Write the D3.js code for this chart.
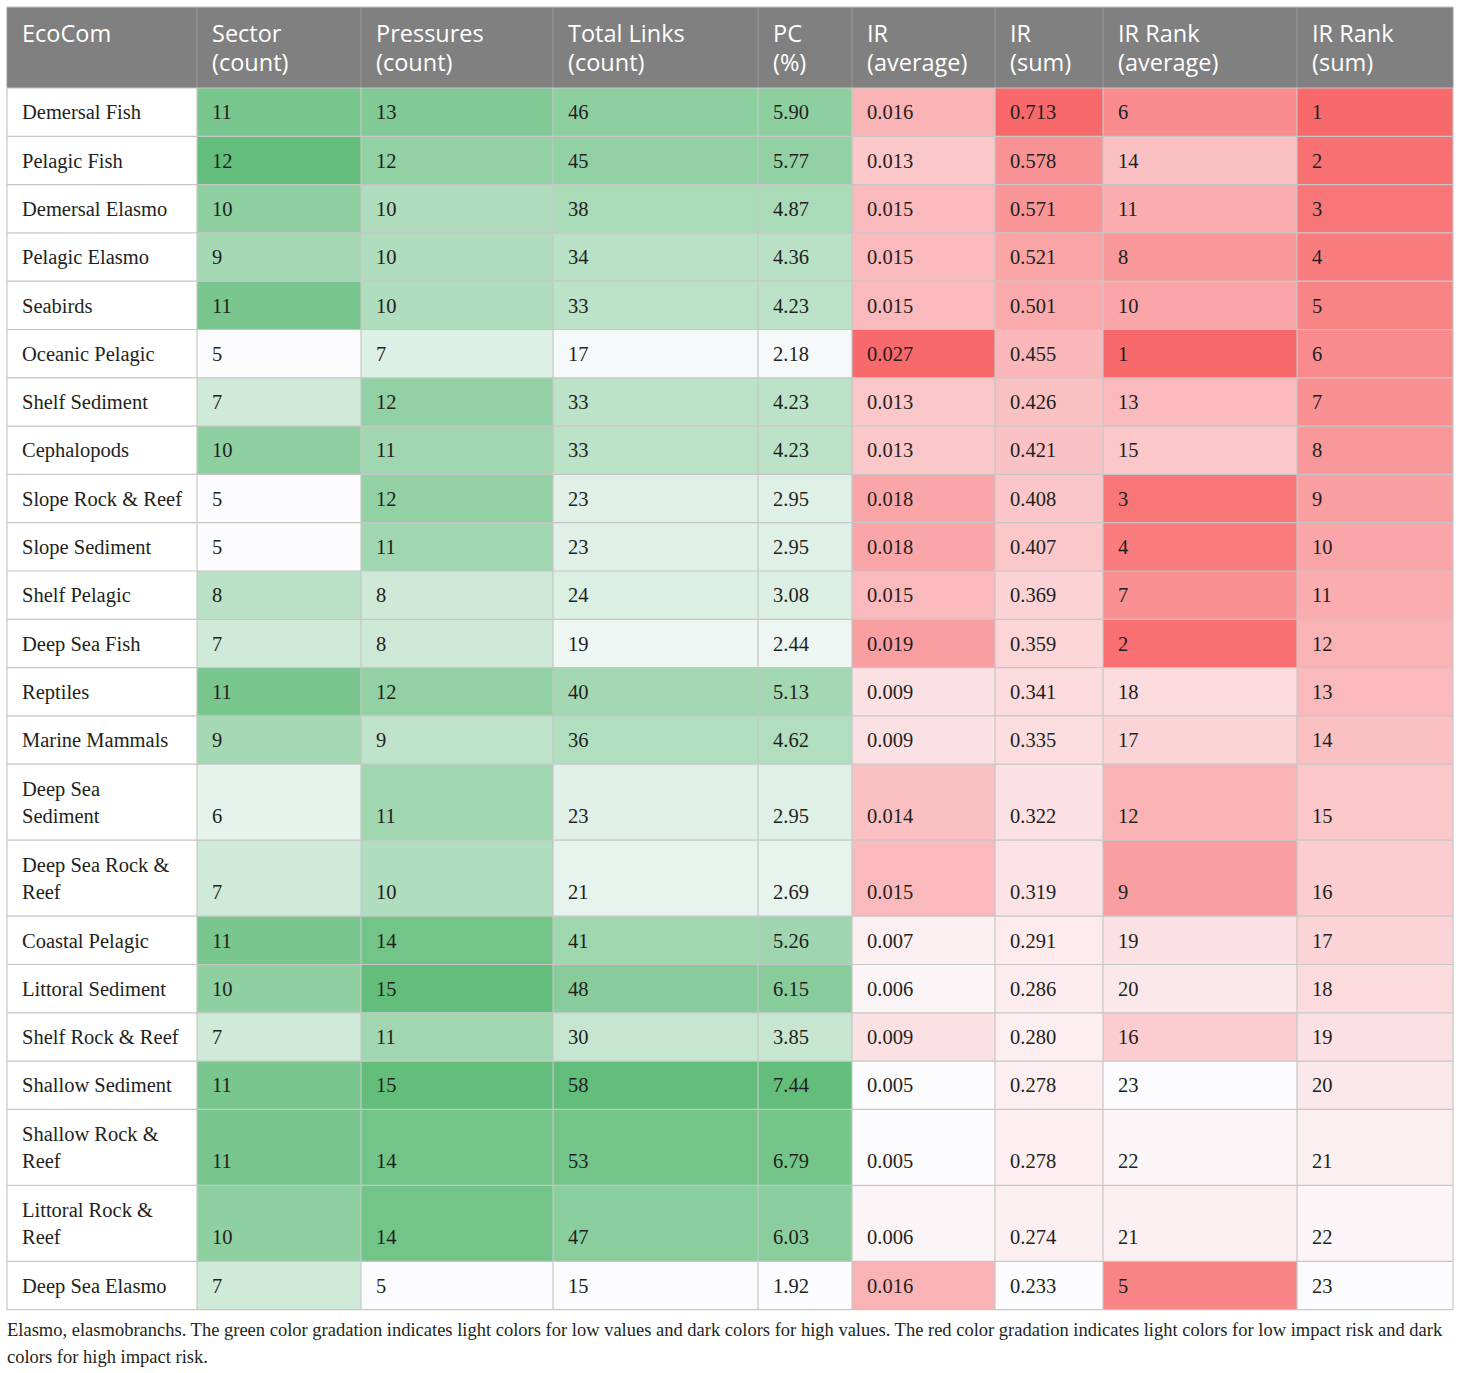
<!DOCTYPE html>
<html><head><meta charset="utf-8">
<script src="https://cdn.jsdelivr.net/npm/d3@7/dist/d3.min.js"></script>
<style>
html,body{margin:0;padding:0;background:#fff;}
svg{display:block;}
</style></head>
<body>
<svg id="chart" width="1460" height="1373"></svg>
<script>
// ---- DATA ----
const headers = [["EcoCom"],["Sector","(count)"],["Pressures","(count)"],["Total Links","(count)"],["PC","(%)"],["IR","(average)"],["IR","(sum)"],["IR Rank","(average)"],["IR Rank","(sum)"]];
const categories = ["Demersal Fish","Pelagic Fish","Demersal Elasmo","Pelagic Elasmo","Seabirds","Oceanic Pelagic","Shelf Sediment","Cephalopods","Slope Rock & Reef","Slope Sediment","Shelf Pelagic","Deep Sea Fish","Reptiles","Marine Mammals","Deep Sea Sediment","Deep Sea Rock & Reef","Coastal Pelagic","Littoral Sediment","Shelf Rock & Reef","Shallow Sediment","Shallow Rock & Reef","Littoral Rock & Reef","Deep Sea Elasmo"];
// number of words kept on the first line when a label wraps (0 = no wrap)
const labelBreak = [0,0,0,0,0,0,0,0,0,0,0,0,0,0,2,4,0,0,0,0,3,3,0];
const sectorCount = [11,12,10,9,11,5,7,10,5,5,8,7,11,9,6,7,11,10,7,11,11,10,7];
const pressuresCount = [13,12,10,10,10,7,12,11,12,11,8,8,12,9,11,10,14,15,11,15,14,14,5];
const totalLinks = [46,45,38,34,33,17,33,33,23,23,24,19,40,36,23,21,41,48,30,58,53,47,15];
const pcPercent = ["5.90","5.77","4.87","4.36","4.23","2.18","4.23","4.23","2.95","2.95","3.08","2.44","5.13","4.62","2.95","2.69","5.26","6.15","3.85","7.44","6.79","6.03","1.92"];
const irAverage = ["0.016","0.013","0.015","0.015","0.015","0.027","0.013","0.013","0.018","0.018","0.015","0.019","0.009","0.009","0.014","0.015","0.007","0.006","0.009","0.005","0.005","0.006","0.016"];
const irSum = ["0.713","0.578","0.571","0.521","0.501","0.455","0.426","0.421","0.408","0.407","0.369","0.359","0.341","0.335","0.322","0.319","0.291","0.286","0.280","0.278","0.278","0.274","0.233"];
const irRankAverage = [6,14,11,8,10,1,13,15,3,4,7,2,18,17,12,9,19,20,16,23,22,21,5];
const irRankSum = [1,2,3,4,5,6,7,8,9,10,11,12,13,14,15,16,17,18,19,20,21,22,23];
const caption = ["Elasmo, elasmobranchs. The green color gradation indicates light colors for low values and dark colors for high values. The red color gradation indicates light colors for low impact risk and dark","colors for high impact risk."];

// ---- LAYOUT ----
const colEdges = [7,197,361,553,758,852,995,1103,1297,1453];
const tableTop = 7, headerH = 81, singleH = 48.3, doubleH = 76;
const pad = 15;
const serif = "'Liberation Serif','Times New Roman',serif";
const sans = "'Open Sans','Noto Sans',sans-serif";
const bodySize = 20.5;

const svg = d3.select("#chart");

const labelLines = categories.map((s, i) => {
  const w = s.split(" "), b = labelBreak[i];
  return b ? [w.slice(0, b).join(" "), w.slice(b).join(" ")] : [s];
});

// rows y
const rowY = []; let yy = tableTop + headerH;
labelLines.forEach(l => { const h = l.length > 1 ? doubleH : singleH; rowY.push({y: yy, h}); yy += h; });
const tableBottom = yy;

// color scales
const white = "#FCFCFF", green = "#63BE7B", red = "#F8696B";
function gScale(arr){ const v = arr.map(Number); return d3.scaleLinear().domain(d3.extent(v)).range([white, green]).interpolate(d3.interpolateRgb); }
function rScale(arr, rev){ const v = arr.map(Number); const e = d3.extent(v); return d3.scaleLinear().domain(rev ? [e[1], e[0]] : e).range([white, red]).interpolate(d3.interpolateRgb); }

const columns = [
  {vals: categories, color: null},
  {vals: sectorCount, color: gScale(sectorCount)},
  {vals: pressuresCount, color: gScale(pressuresCount)},
  {vals: totalLinks, color: gScale(totalLinks)},
  {vals: pcPercent, color: gScale(pcPercent)},
  {vals: irAverage, color: rScale(irAverage, false)},
  {vals: irSum, color: rScale(irSum, false)},
  {vals: irRankAverage, color: rScale(irRankAverage, true)},
  {vals: irRankSum, color: rScale(irRankSum, true)}
];

// header
svg.append("rect").attr("x", colEdges[0]).attr("y", tableTop).attr("width", colEdges[9]-colEdges[0]).attr("height", headerH).attr("fill", "#808080");
headers.forEach((h, i) => {
  const t = svg.append("text").attr("font-family", sans).attr("font-size", 23.5).attr("fill", "#fff");
  h.forEach((line, j) => t.append("tspan").attr("x", colEdges[i] + pad).attr("y", tableTop + 35 + j * 29).text(line));
});

// cells
columns.forEach((col, ci) => {
  col.vals.forEach((v, ri) => {
    const r = rowY[ri];
    svg.append("rect").attr("x", colEdges[ci]).attr("y", r.y).attr("width", colEdges[ci+1]-colEdges[ci]).attr("height", r.h)
      .attr("fill", col.color ? col.color(+v) : "#fff");
    const t = svg.append("text").attr("font-family", serif).attr("font-size", bodySize).attr("fill", "#231f20");
    const lines = ci === 0 ? labelLines[ri] : [String(v)];
    const n = lines.length;
    lines.forEach((line, j) => t.append("tspan").attr("x", colEdges[ci] + pad).attr("y", r.y + r.h - 24 + 7 - (n - 1 - j) * 27).text(line));
  });
});

// grid lines
const gridC = "#c6c6c6";
colEdges.forEach((x, i) => {
  svg.append("line").attr("x1", x).attr("x2", x).attr("y1", tableTop).attr("y2", tableTop + headerH).attr("stroke", "#9a9a9a").attr("stroke-width", 1);
  svg.append("line").attr("x1", x).attr("x2", x).attr("y1", tableTop + headerH).attr("y2", tableBottom).attr("stroke", gridC).attr("stroke-width", 1.2);
});
svg.append("line").attr("x1", colEdges[0]).attr("x2", colEdges[9]).attr("y1", tableTop).attr("y2", tableTop).attr("stroke", gridC).attr("stroke-width", 1.2);
rowY.forEach(r => {
  svg.append("line").attr("x1", colEdges[0]).attr("x2", colEdges[9]).attr("y1", r.y).attr("y2", r.y).attr("stroke", gridC).attr("stroke-width", 1.2);
});
svg.append("line").attr("x1", colEdges[0]).attr("x2", colEdges[9]).attr("y1", tableBottom).attr("y2", tableBottom).attr("stroke", gridC).attr("stroke-width", 1.2);

// caption
caption.forEach((c, i) => {
  const t = svg.append("text").attr("font-family", serif).attr("font-size", 18.5).attr("fill", "#231f20")
    .attr("x", 7).attr("y", tableBottom + 26 + i * 27).text(c);
  if (i === 0) {
    const w = t.node().getComputedTextLength();
    const target = 1446;
    if (w > target) t.attr("textLength", target).attr("lengthAdjust", "spacingAndGlyphs");
  }
});
</script>
</body></html>
